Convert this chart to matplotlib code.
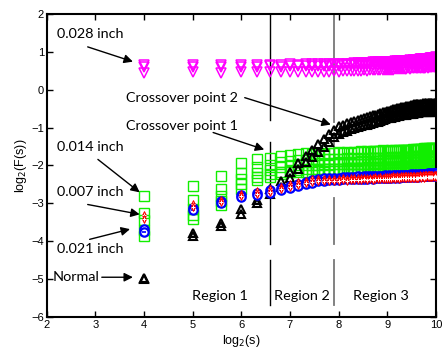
import matplotlib
matplotlib.use("Agg")
import matplotlib.pyplot as plt
import numpy as np

# window sizes s (x axis shows log2(s))
scales = [16, 32, 48, 64, 80, 96, 112, 128, 144, 160, 176, 192, 208, 224, 240, 256,
          272, 288, 304, 320, 336, 352, 368, 384, 400, 416, 432, 448, 464, 480, 496, 512,
          528, 544, 560, 576, 592, 608, 624, 640, 656, 672, 688, 704, 720, 736, 752, 768,
          784, 800, 816, 832, 848, 864, 880, 896, 912, 928, 944, 960, 976, 992, 1008, 1024]

# log2(F(s)) per class, a few signals each
normal_a = [-4.98, -3.78, -3.52, -3.16, -2.90, -2.62, -2.42, -2.16,
            -1.94, -1.74, -1.58, -1.44, -1.30, -1.16, -1.06, -0.96,
            -0.92, -0.88, -0.86, -0.82, -0.80, -0.77, -0.74, -0.72,
            -0.70, -0.68, -0.66, -0.64, -0.62, -0.60, -0.58, -0.56,
            -0.55, -0.53, -0.52, -0.50, -0.49, -0.48, -0.46, -0.45,
            -0.45, -0.44, -0.42, -0.42, -0.41, -0.40, -0.39, -0.39,
            -0.38, -0.38, -0.37, -0.37, -0.36, -0.37, -0.36, -0.36,
            -0.35, -0.36, -0.35, -0.35, -0.36, -0.35, -0.36, -0.37]
normal_b = [-5.00, -3.86, -3.60, -3.28, -3.00, -2.76, -2.56, -2.32,
            -2.10, -1.92, -1.78, -1.64, -1.50, -1.38, -1.26, -1.16,
            -1.12, -1.08, -1.05, -1.02, -0.98, -0.96, -0.94, -0.92,
            -0.90, -0.88, -0.86, -0.84, -0.82, -0.80, -0.78, -0.76,
            -0.75, -0.74, -0.72, -0.71, -0.70, -0.69, -0.68, -0.67,
            -0.66, -0.66, -0.65, -0.64, -0.63, -0.63, -0.62, -0.62,
            -0.61, -0.61, -0.60, -0.60, -0.60, -0.59, -0.59, -0.59,
            -0.58, -0.58, -0.58, -0.57, -0.58, -0.57, -0.58, -0.58]

in028_a = [0.64, 0.65, 0.64, 0.66, 0.65, 0.66, 0.66, 0.67,
           0.66, 0.67, 0.67, 0.68, 0.67, 0.68, 0.68, 0.69,
           0.68, 0.69, 0.69, 0.70, 0.70, 0.71, 0.70, 0.71,
           0.71, 0.72, 0.72, 0.72, 0.73, 0.72, 0.73, 0.74,
           0.73, 0.74, 0.74, 0.75, 0.75, 0.75, 0.76, 0.76,
           0.77, 0.76, 0.77, 0.78, 0.77, 0.78, 0.78, 0.79,
           0.79, 0.79, 0.80, 0.80, 0.80, 0.81, 0.81, 0.82,
           0.82, 0.82, 0.83, 0.83, 0.84, 0.83, 0.84, 0.85]
in028_b = [0.60, 0.61, 0.60, 0.61, 0.61, 0.62, 0.61, 0.62,
           0.62, 0.62, 0.63, 0.62, 0.63, 0.63, 0.64, 0.63,
           0.64, 0.64, 0.65, 0.64, 0.65, 0.65, 0.66, 0.65,
           0.66, 0.66, 0.67, 0.66, 0.67, 0.67, 0.67, 0.68,
           0.68, 0.68, 0.68, 0.69, 0.69, 0.69, 0.70, 0.69,
           0.70, 0.70, 0.71, 0.70, 0.71, 0.71, 0.71, 0.72,
           0.72, 0.72, 0.72, 0.73, 0.72, 0.73, 0.73, 0.74,
           0.73, 0.74, 0.74, 0.74, 0.75, 0.74, 0.75, 0.76]
in028_c = [0.45, 0.46, 0.45, 0.46, 0.46, 0.47, 0.46, 0.47,
           0.47, 0.47, 0.48, 0.47, 0.48, 0.48, 0.49, 0.48,
           0.49, 0.49, 0.50, 0.49, 0.50, 0.50, 0.51, 0.50,
           0.51, 0.51, 0.52, 0.51, 0.52, 0.52, 0.52, 0.53,
           0.53, 0.53, 0.53, 0.54, 0.54, 0.54, 0.55, 0.54,
           0.55, 0.55, 0.56, 0.55, 0.56, 0.56, 0.56, 0.57,
           0.57, 0.57, 0.57, 0.58, 0.57, 0.58, 0.58, 0.59,
           0.58, 0.59, 0.59, 0.59, 0.60, 0.59, 0.60, 0.61]

in014_a = [-2.80, -2.55, -2.28, -1.93, -1.84, -1.79, -1.76, -1.72,
           -1.70, -1.68, -1.70, -1.67, -1.69, -1.66, -1.68, -1.65,
           -1.67, -1.64, -1.66, -1.64, -1.65, -1.63, -1.65, -1.62,
           -1.64, -1.62, -1.63, -1.61, -1.63, -1.60, -1.62, -1.61,
           -1.62, -1.60, -1.61, -1.59, -1.61, -1.60, -1.60, -1.58,
           -1.60, -1.58, -1.59, -1.58, -1.59, -1.57, -1.58, -1.57,
           -1.58, -1.56, -1.57, -1.56, -1.57, -1.55, -1.56, -1.55,
           -1.56, -1.55, -1.56, -1.54, -1.55, -1.54, -1.55, -1.53]
in014_b = [-3.25, -2.92, -2.62, -2.20, -2.05, -1.98, -1.92, -1.88,
           -1.86, -1.85, -1.84, -1.85, -1.83, -1.84, -1.82, -1.83,
           -1.82, -1.81, -1.83, -1.81, -1.82, -1.80, -1.82, -1.80,
           -1.81, -1.80, -1.81, -1.79, -1.81, -1.79, -1.80, -1.79,
           -1.80, -1.78, -1.80, -1.78, -1.79, -1.78, -1.79, -1.77,
           -1.79, -1.77, -1.78, -1.77, -1.78, -1.76, -1.78, -1.76,
           -1.77, -1.76, -1.77, -1.75, -1.77, -1.75, -1.76, -1.75,
           -1.76, -1.75, -1.76, -1.74, -1.75, -1.74, -1.75, -1.74]
in014_c = [-3.45, -3.15, -2.80, -2.35, -2.20, -2.12, -2.05, -2.02,
           -2.00, -1.99, -1.98, -1.99, -1.97, -1.98, -1.96, -1.97,
           -1.97, -1.96, -1.97, -1.95, -1.96, -1.95, -1.96, -1.95,
           -1.95, -1.94, -1.95, -1.94, -1.95, -1.93, -1.94, -1.93,
           -1.94, -1.93, -1.94, -1.92, -1.93, -1.92, -1.93, -1.92,
           -1.93, -1.91, -1.92, -1.91, -1.92, -1.91, -1.92, -1.90,
           -1.91, -1.90, -1.91, -1.90, -1.91, -1.89, -1.90, -1.89,
           -1.90, -1.89, -1.90, -1.88, -1.89, -1.88, -1.89, -1.88]
in014_d = [-3.70, -3.30, -2.95, -2.50, -2.30, -2.22, -2.16, -2.12,
           -2.11, -2.10, -2.10, -2.09, -2.10, -2.08, -2.09, -2.08,
           -2.08, -2.07, -2.08, -2.06, -2.07, -2.06, -2.07, -2.05,
           -2.06, -2.05, -2.06, -2.04, -2.05, -2.04, -2.05, -2.04,
           -2.04, -2.03, -2.04, -2.03, -2.04, -2.02, -2.03, -2.02,
           -2.03, -2.02, -2.03, -2.01, -2.02, -2.01, -2.02, -2.01,
           -2.02, -2.00, -2.01, -2.00, -2.01, -2.00, -2.01, -1.99,
           -2.00, -1.99, -2.00, -1.99, -2.00, -1.98, -1.99, -1.98]
in014_e = [-3.85, -3.42, -3.05, -2.62, -2.38, -2.30, -2.22, -2.18,
           -2.17, -2.16, -2.16, -2.15, -2.16, -2.14, -2.15, -2.14,
           -2.14, -2.13, -2.14, -2.13, -2.14, -2.12, -2.13, -2.12,
           -2.13, -2.12, -2.12, -2.11, -2.12, -2.11, -2.12, -2.10,
           -2.11, -2.10, -2.11, -2.10, -2.11, -2.09, -2.10, -2.09,
           -2.10, -2.09, -2.10, -2.08, -2.09, -2.08, -2.09, -2.08,
           -2.09, -2.07, -2.08, -2.07, -2.08, -2.07, -2.08, -2.06,
           -2.07, -2.06, -2.07, -2.06, -2.07, -2.05, -2.06, -2.05]

in007_a = [-3.30, -3.02, -2.90, -2.74, -2.68, -2.62, -2.56, -2.50,
           -2.44, -2.40, -2.37, -2.36, -2.36, -2.35, -2.35, -2.36,
           -2.34, -2.35, -2.33, -2.34, -2.33, -2.34, -2.32, -2.33,
           -2.32, -2.33, -2.31, -2.32, -2.31, -2.32, -2.30, -2.31,
           -2.30, -2.31, -2.29, -2.30, -2.29, -2.30, -2.29, -2.29,
           -2.28, -2.29, -2.28, -2.29, -2.27, -2.28, -2.27, -2.28,
           -2.27, -2.28, -2.26, -2.27, -2.26, -2.27, -2.26, -2.26,
           -2.25, -2.26, -2.25, -2.26, -2.25, -2.25, -2.24, -2.25]
in007_b = [-3.42, -3.10, -2.97, -2.80, -2.74, -2.69, -2.63, -2.57,
           -2.51, -2.47, -2.44, -2.42, -2.41, -2.40, -2.40, -2.41,
           -2.39, -2.40, -2.38, -2.39, -2.38, -2.39, -2.37, -2.38,
           -2.37, -2.38, -2.36, -2.37, -2.36, -2.37, -2.35, -2.36,
           -2.35, -2.36, -2.34, -2.35, -2.34, -2.35, -2.34, -2.34,
           -2.33, -2.34, -2.33, -2.34, -2.32, -2.33, -2.32, -2.33,
           -2.32, -2.33, -2.31, -2.32, -2.31, -2.32, -2.31, -2.31,
           -2.30, -2.31, -2.30, -2.31, -2.30, -2.30, -2.29, -2.30]

in021_a = [-3.68, -3.12, -2.94, -2.78, -2.72, -2.66, -2.60, -2.54,
           -2.48, -2.43, -2.39, -2.36, -2.34, -2.33, -2.32, -2.32,
           -2.31, -2.31, -2.30, -2.31, -2.29, -2.30, -2.29, -2.29,
           -2.28, -2.29, -2.27, -2.28, -2.27, -2.28, -2.26, -2.27,
           -2.26, -2.27, -2.25, -2.26, -2.25, -2.26, -2.25, -2.25,
           -2.24, -2.25, -2.24, -2.25, -2.23, -2.24, -2.23, -2.24,
           -2.23, -2.24, -2.22, -2.23, -2.22, -2.23, -2.22, -2.22,
           -2.21, -2.22, -2.21, -2.22, -2.21, -2.21, -2.20, -2.21]
in021_b = [-3.76, -3.18, -3.00, -2.84, -2.78, -2.72, -2.66, -2.60,
           -2.54, -2.49, -2.45, -2.42, -2.40, -2.39, -2.38, -2.38,
           -2.37, -2.37, -2.36, -2.37, -2.35, -2.36, -2.35, -2.35,
           -2.34, -2.35, -2.33, -2.34, -2.33, -2.34, -2.32, -2.33,
           -2.32, -2.33, -2.31, -2.32, -2.31, -2.32, -2.31, -2.31,
           -2.30, -2.31, -2.30, -2.31, -2.29, -2.30, -2.29, -2.30,
           -2.29, -2.30, -2.28, -2.29, -2.28, -2.29, -2.28, -2.28,
           -2.27, -2.28, -2.27, -2.28, -2.27, -2.27, -2.26, -2.27]

region_names = ["Region 1", "Region 2", "Region 3"]
boundaries = [96, 240]   # crossover window sizes

x = np.log2(scales)
lab_font = "Lato"
lab_size = 10.4

fig = plt.figure(figsize=(4.42, 3.57), dpi=100)
ax = fig.add_axes([0.106, 0.112, 0.880, 0.849])

# region separators (broken vertical lines)
b1, b2 = np.log2(boundaries)
for y0, y1 in [(2, -0.79), (-1.39, -4.08), (-4.5, -5.68)]:
    ax.plot([b1, b1], [y0, y1], color="black", lw=1.0, zorder=1)
for y0, y1 in [(2, -0.85), (-1.2, -2.45), (-2.87, -4.08), (-4.5, -5.68)]:
    ax.plot([b2, b2], [y0, y1], color="#777777", lw=1.3, zorder=1)

for ys in [in014_a, in014_b, in014_c, in014_d, in014_e]:
    ax.plot(x, ys, ls="none", marker="s", ms=6.5, mfc="none", mec="#11ee00", mew=1.0, zorder=2)
for ys in [in028_a, in028_b, in028_c]:
    ax.plot(x, ys, ls="none", marker="v", ms=6.5, mfc="none", mec="#ff00ff", mew=1.1, zorder=2)
for ys in [normal_a, normal_b]:
    ax.plot(x, ys, ls="none", marker="^", ms=6, mfc="none", mec="black", mew=1.5, zorder=3)
for ys in [in021_a, in021_b]:
    ax.plot(x, ys, ls="none", marker="o", ms=6, mfc="white", mec="#0000ff", mew=1.6, zorder=4)
    ax.plot(x, ys, ls="none", marker="_", ms=3, mec="#0000ff", mew=1.2, zorder=4)
for ys in [in007_a, in007_b]:
    ax.plot(x, ys, ls="none", marker="d", ms=4.2, mfc="#ff0000", mec="#ff0000", mew=0.6, zorder=5)
    ax.plot(x, ys, ls="none", marker="+", ms=2.6, mec="white", mew=0.7, zorder=5)

arrow = dict(arrowstyle="-|>", color="black", lw=1.0, mutation_scale=13, shrinkA=0, shrinkB=0)
notes = [("0.028 inch", (2.20, 1.47), (2.84, 1.13), (3.77, 0.74)),
         ("0.014 inch", (2.20, -1.50), (3.05, -1.84), (3.91, -2.71)),
         ("0.007 inch", (2.20, -2.71), (2.84, -3.03), (3.91, -3.29)),
         ("0.021 inch", (2.20, -4.21), (2.88, -3.95), (3.71, -3.68)),
         ("Crossover point 2", (3.63, -0.21), (6.07, -0.21), (7.84, -0.92)),
         ("Crossover point 1", (3.63, -0.97), (5.42, -1.13), (6.47, -1.58))]
for txt, tpos, start, tip in notes:
    ax.text(tpos[0], tpos[1], txt, fontsize=lab_size, family=lab_font, ha="left", va="center")
    ax.annotate("", xy=tip, xytext=start, arrowprops=arrow)
ax.text(2.12, -4.95, "Normal", fontsize=lab_size, family=lab_font, ha="left", va="center")
ax.annotate("", xy=(3.77, -4.95), xytext=(3.13, -4.95), arrowprops=arrow)

for name, xc in zip(region_names, [5.56, 7.25, 8.87]):
    ax.text(xc, -5.44, name, fontsize=lab_size, family=lab_font, ha="center", va="center")

ax.set_xlim(2, 10)
ax.set_ylim(-6, 2)
ax.set_xticks(range(2, 11))
ax.set_yticks(range(-6, 3))
ax.tick_params(direction="in", top=True, right=True, length=4, width=1,
               labelsize=8, pad=2)
for lbl in ax.get_xticklabels() + ax.get_yticklabels():
    lbl.set_family("Liberation Sans")
for sp in ax.spines.values():
    sp.set_linewidth(1.5)

ax.set_xlabel(r"log$_2$(s)", fontsize=9, family="Liberation Sans", labelpad=2)
ax.set_ylabel(r"log$_2$(F(s))", fontsize=9, family="Liberation Sans", labelpad=2)

fig.savefig("out.png", dpi=100)
